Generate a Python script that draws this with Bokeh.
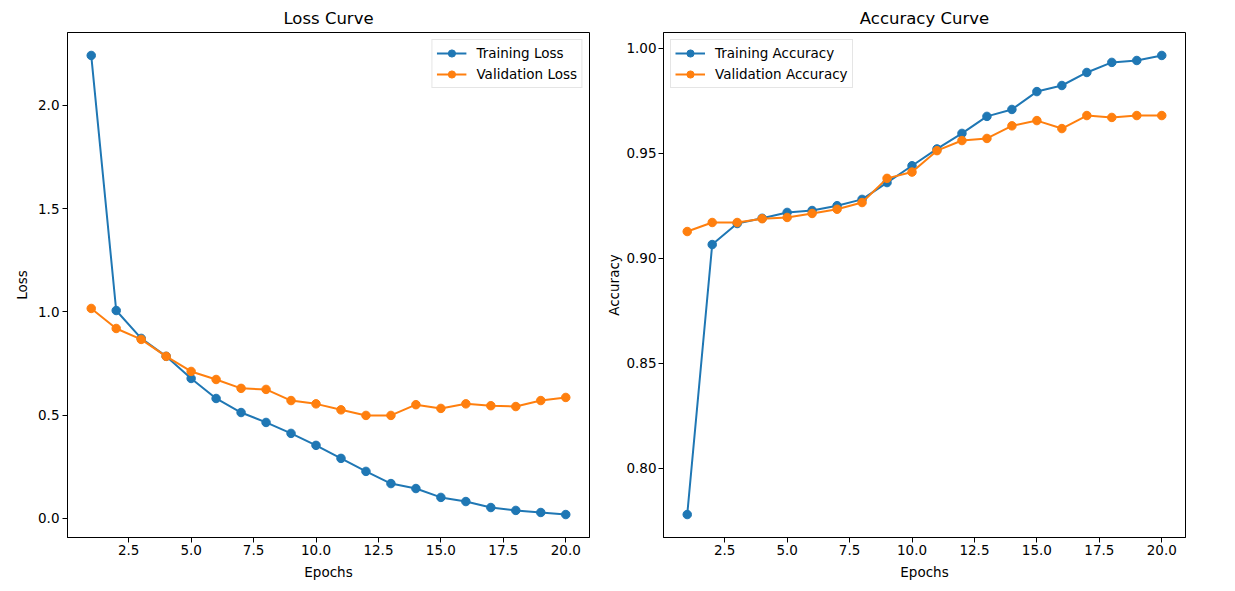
from bokeh.plotting import figure
from bokeh.layouts import row
from bokeh.models import Range1d, FixedTicker, NumeralTickFormatter
from bokeh.embed import file_html
from bokeh.resources import INLINE

epochs = list(range(1, 21))
train_loss = [2.242, 1.007, 0.872, 0.785, 0.678, 0.581, 0.513, 0.465, 0.412, 0.354,
              0.291, 0.228, 0.169, 0.145, 0.102, 0.082, 0.053, 0.039, 0.029, 0.019]
val_loss = [1.017, 0.920, 0.867, 0.785, 0.712, 0.673, 0.630, 0.625, 0.571, 0.555,
            0.526, 0.499, 0.499, 0.551, 0.533, 0.555, 0.546, 0.542, 0.571, 0.586]
train_acc = [0.778, 0.9065, 0.9165, 0.9190, 0.9218, 0.9227, 0.9250, 0.9280, 0.9360, 0.9440,
             0.9520, 0.9594, 0.9675, 0.9708, 0.9793, 0.9822, 0.9884, 0.9932, 0.9941, 0.9965]
val_acc = [0.9127, 0.9170, 0.9170, 0.9188, 0.9194, 0.9213, 0.9233, 0.9265, 0.9380, 0.9410,
           0.9512, 0.9560, 0.9570, 0.9630, 0.9655, 0.9617, 0.9679, 0.9670, 0.9679, 0.9679]

x_ticks = [2.5, 5.0, 7.5, 10.0, 12.5, 15.0, 17.5, 20.0]
loss_ticks = [0.0, 0.5, 1.0, 1.5, 2.0]
acc_ticks = [0.80, 0.85, 0.90, 0.95, 1.00]

BLUE = "#1f77b4"
ORANGE = "#ff7f0e"
FONT = "DejaVu Sans"


def padded(vals):
    lo, hi = min(vals), max(vals)
    m = (hi - lo) * 0.05
    return lo - m, hi + m


def make(title, ylabel, series, yticks, yfmt, border_left, border_right,
         legend_loc, ylab_standoff, yaxis_standoff):
    allv = [v for _, s, _ in series for v in s]
    ylo, yhi = padded(allv)
    xlo, xhi = padded(epochs)
    p = figure(frame_width=522, frame_height=505, output_backend="svg",
               toolbar_location=None,
               x_range=Range1d(xlo, xhi), y_range=Range1d(ylo, yhi),
               min_border_left=border_left, min_border_right=border_right,
               min_border_top=32, min_border_bottom=52)
    p.title.text = title
    p.title.align = "center"
    p.title.text_font = FONT
    p.title.text_font_size = "16.5px"
    p.title.text_font_style = "normal"
    p.title.text_color = "black"
    p.title.standoff = 9
    p.grid.visible = False
    p.outline_line_color = "black"
    p.outline_line_width = 1
    p.outline_line_alpha = 1
    p.background_fill_color = "white"
    for ax in (p.xaxis[0], p.yaxis[0]):
        ax.axis_line_color = "black"
        ax.major_tick_line_color = "black"
        ax.major_tick_out = 5
        ax.major_tick_in = 0
        ax.minor_tick_line_color = None
        ax.major_label_text_font = FONT
        ax.major_label_text_font_size = "13.5px"
        ax.major_label_text_color = "black"
        ax.axis_label_text_font = FONT
        ax.axis_label_text_font_size = "13.5px"
        ax.axis_label_text_font_style = "normal"
        ax.axis_label_text_color = "black"
    p.xaxis.major_label_standoff = 2
    p.xaxis.axis_label_standoff = 6
    p.yaxis.major_label_standoff = ylab_standoff
    p.yaxis.axis_label_standoff = yaxis_standoff
    p.xaxis.ticker = FixedTicker(ticks=x_ticks)
    p.xaxis.formatter = NumeralTickFormatter(format="0.0")
    p.yaxis.ticker = FixedTicker(ticks=yticks)
    p.yaxis.formatter = NumeralTickFormatter(format=yfmt)
    p.xaxis.axis_label = "Epochs"
    p.yaxis.axis_label = ylabel
    for label, vals, color in series:
        p.line(epochs, vals, line_color=color, line_width=2, legend_label=label)
        p.scatter(epochs, vals, size=8.5, fill_color=color, line_color=color,
                  legend_label=label)
    lg = p.legend[0]
    lg.location = legend_loc
    lg.margin = 7
    lg.padding = 4
    lg.spacing = 3
    lg.label_text_font = FONT
    lg.label_text_font_size = "13.5px"
    lg.label_text_color = "black"
    lg.glyph_width = 30
    lg.glyph_height = 18
    lg.label_standoff = 10
    lg.label_height = 18
    lg.border_line_color = "#cccccc"
    lg.border_line_width = 1
    lg.background_fill_alpha = 0.8
    return p


p1 = make("Loss Curve", "Loss",
          [("Training Loss", train_loss, BLUE), ("Validation Loss", val_loss, ORANGE)],
          loss_ticks, "0.0", 67, 14, "top_right", 3, 5)
p2 = make("Accuracy Curve", "Accuracy",
          [("Training Accuracy", train_acc, BLUE), ("Validation Accuracy", val_acc, ORANGE)],
          acc_ticks, "0.00", 40, 30, "top_left", 2, 1)

layout = row(p1, p2)
open("out.html", "w").write(file_html(layout, INLINE))
